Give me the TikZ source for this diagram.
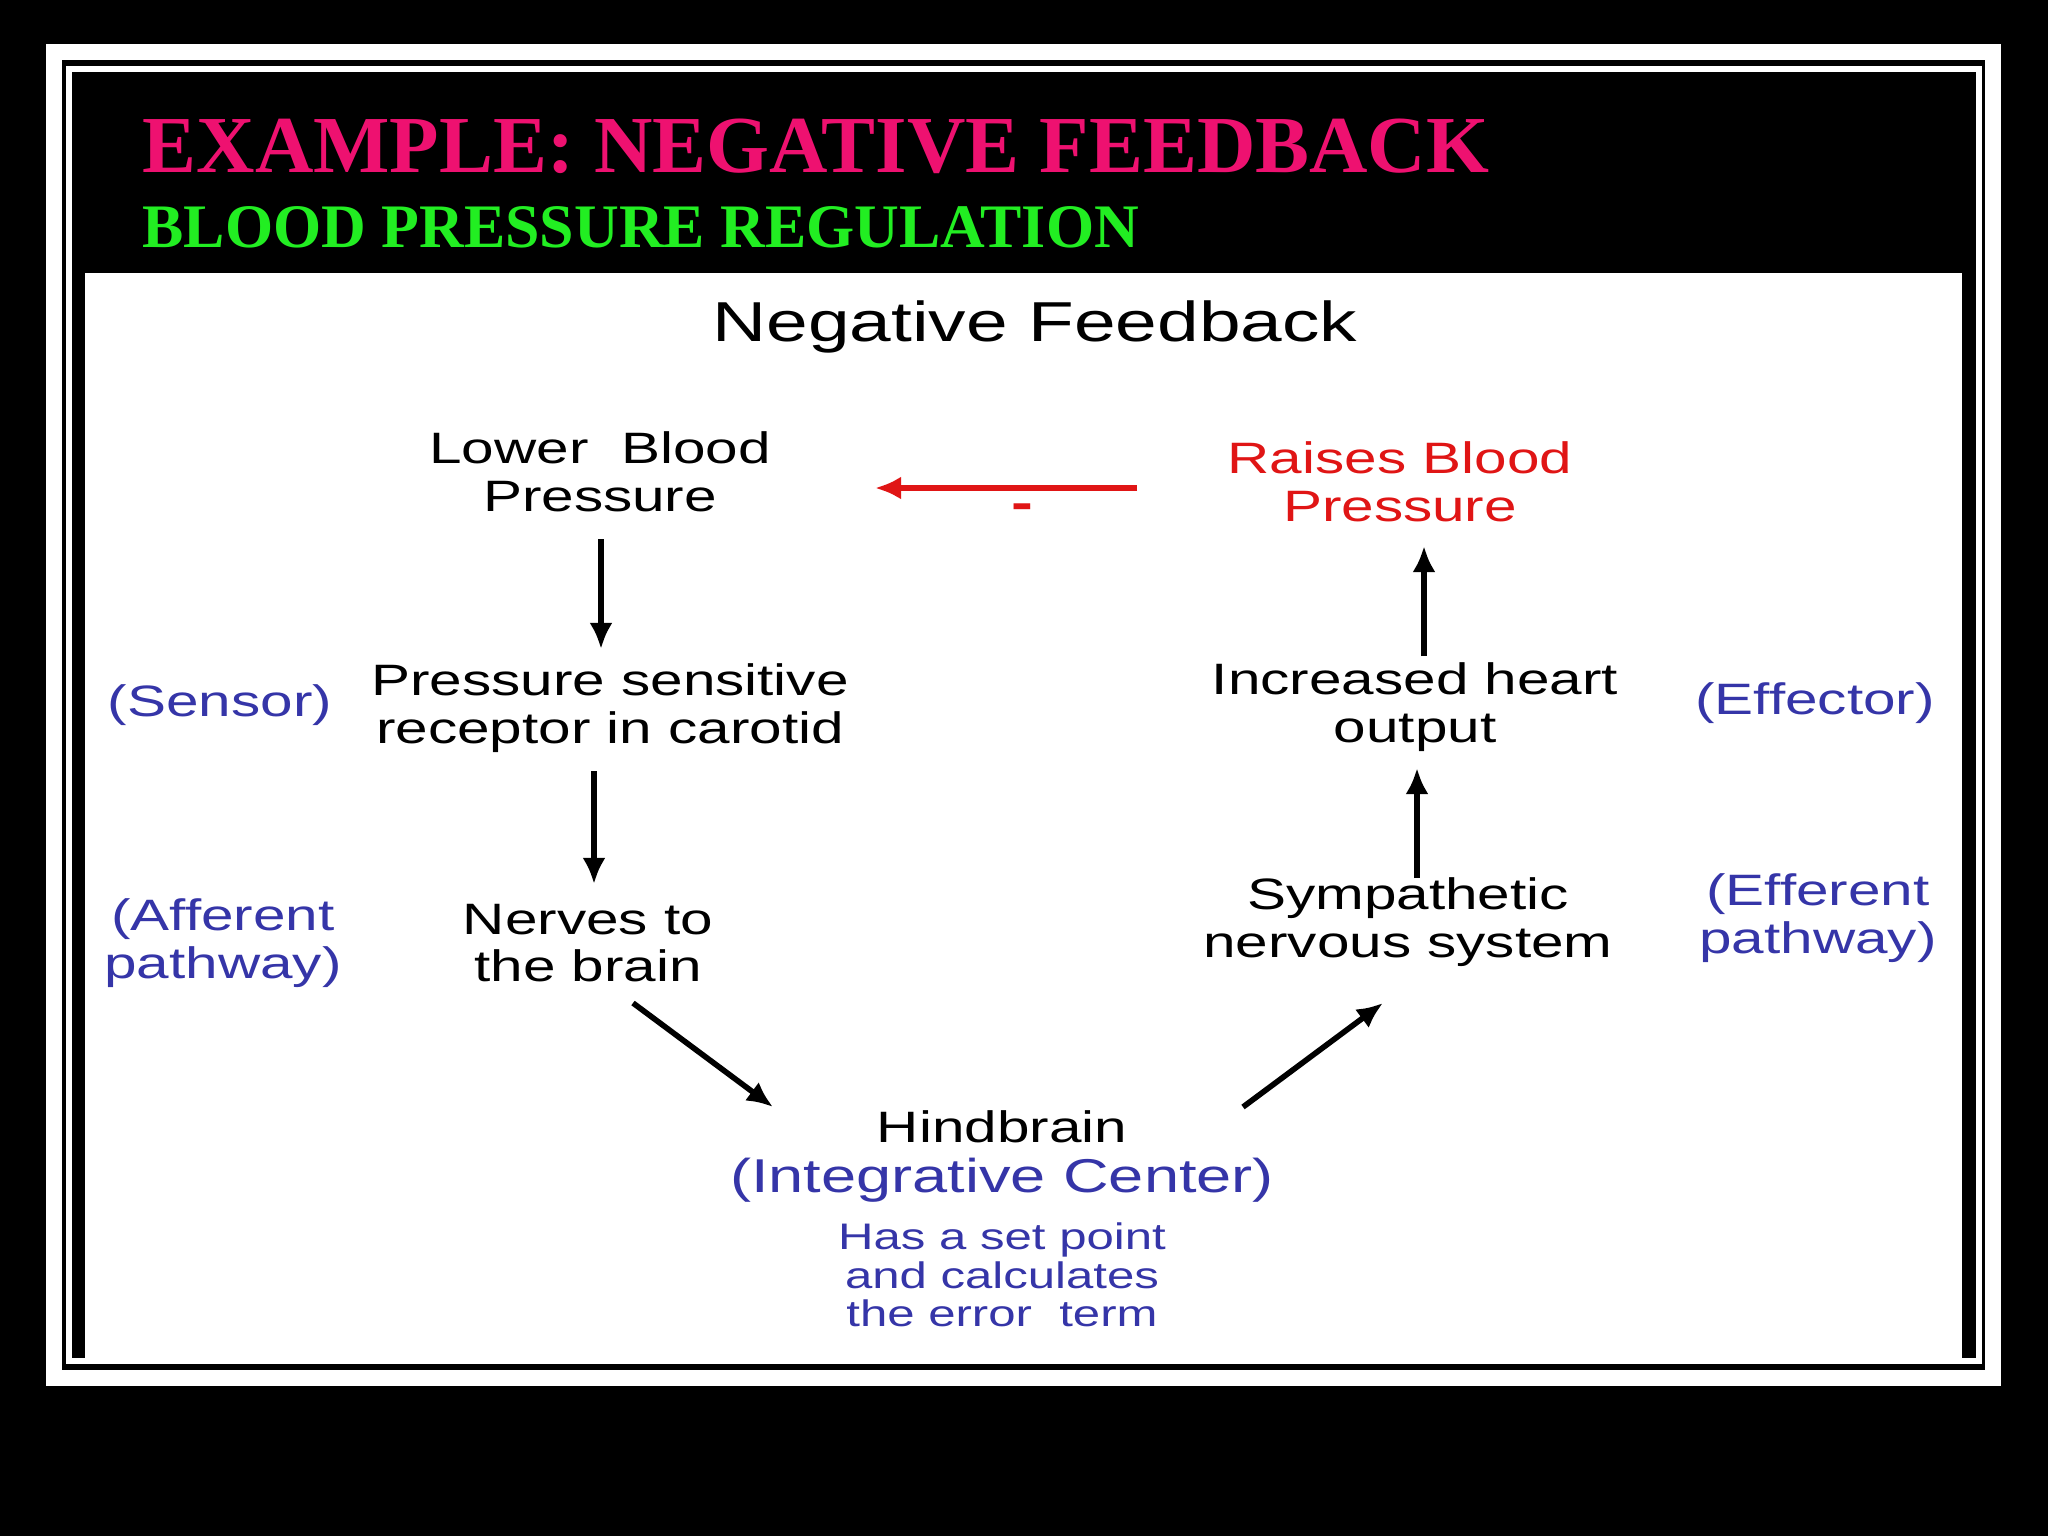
\documentclass[tikz,border=0pt]{standalone}
\usepackage{fontspec}
\setmainfont{Liberation Sans}[FakeStretch=1.33]
\newfontfamily\titlefont{Liberation Serif}
\usetikzlibrary{positioning,arrows.meta}
\definecolor{titlepink}{HTML}{EE1170}
\definecolor{titlegreen}{HTML}{22EE22}
\definecolor{labelblue}{HTML}{3535A8}
\definecolor{effred}{HTML}{E01515}
\tikzset{
  stage/.style={align=center,font=\fontsize{12.5}{13.5}\selectfont},
  role/.style={stage,text=labelblue},
  flow/.style={-{Latex[length=2.6mm,width=2.3mm]},line width=1.6pt}
}
\begin{document}
\begin{tikzpicture}[x=0.01cm,y=-0.01cm]
\useasboundingbox (0,0) rectangle (2048,1536);
\fill[black] (0,0) rectangle (2048,1536);
% frame
\draw[white,line width=4.5pt] (54,52) rectangle (1993,1378);
\draw[white,line width=1.5pt] (69,69) rectangle (1979,1361);
% headings
\node[anchor=base west,text=titlepink,font=\titlefont\bfseries\fontsize{23}{26}\selectfont,inner sep=0] (title) at (142,172) {EXAMPLE: NEGATIVE FEEDBACK};
\node[anchor=base west,text=titlegreen,font=\titlefont\bfseries\fontsize{17.6}{20}\selectfont,inner sep=0] (sub) at (142,247) {BLOOD PRESSURE REGULATION};
% panel
\fill[white] (85,273) rectangle (1962,1362);
\node[font=\fontsize{16}{19}\selectfont] (head) at (1035,327) {Negative Feedback};
% stages
\node[stage] (lower) at (600,472) {Lower\ \ Blood\\Pressure};
\node[stage,text=effred] (raise) at (1400,482) {Raises Blood\\Pressure};
\node[stage] (sensor) at (610,708) {Pressure sensitive\\receptor in carotid};
\node[stage] (nerves) at (588,943) {Nerves to\\the brain};
\node[stage] (hind) at (1002,1127) {Hindbrain};
\node[role,font=\fontsize{13.5}{16}\selectfont] (integ) at (1002,1180) {(Integrative Center)};
\node[role,font=\fontsize{10.5}{11}\selectfont] (setpt) at (1002,1275) {Has a set point\\and calculates\\the error\ \ term};
\node[stage] (symp) at (1408,922) {Sympathetic\\nervous system};
\node[stage] (heart) at (1415,707) {Increased heart\\output};
% roles
\node[role] (rsens) at (220,705) {(Sensor)};
\node[role] (raff) at (223,943) {(Afferent\\pathway)};
\node[role] (reff) at (1815,703) {(Effector)};
\node[role] (refp) at (1818,918) {(Efferent\\pathway)};
% connectors
\coordinate (a1) at (1137,488); \coordinate (a2) at (875,488);
\draw[flow,effred] (a1) -- (a2);
\node[text=effred,font=\bfseries\fontsize{14}{16}\selectfont] (minus) at (1022,512) {-};
\coordinate (l1) at (601,539); \coordinate (l2) at (601,649);
\coordinate (p1) at (594,771); \coordinate (p2) at (594,884);
\coordinate (n1) at (633,1003); \coordinate (n2) at (773,1107);
\coordinate (s1) at (1243,1107); \coordinate (s2) at (1383,1003);
\coordinate (y1) at (1417,878); \coordinate (y2) at (1417,768);
\coordinate (h1) at (1424,656); \coordinate (h2) at (1424,546);
\draw[flow] (l1) -- (l2);
\draw[flow] (p1) -- (p2);
\draw[flow] (n1) -- (n2);
\draw[flow] (s1) -- (s2);
\draw[flow] (y1) -- (y2);
\draw[flow] (h1) -- (h2);
\end{tikzpicture}
\end{document}
